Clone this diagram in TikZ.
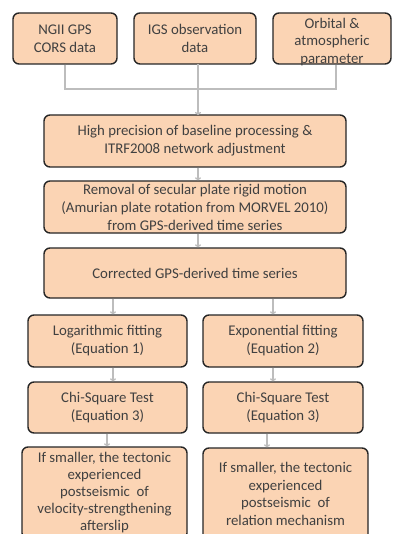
\documentclass[tikz,border=0pt]{standalone}
\usepackage{fontspec}
\setmainfont{Carlito}
\usetikzlibrary{arrows.meta}
\definecolor{boxfill}{HTML}{FBD4B4}
\definecolor{boxline}{HTML}{262626}
\definecolor{txt}{HTML}{404040}
\definecolor{conn}{HTML}{BDBDBD}
\tikzset{
  box/.style={draw=boxline, line width=1.4pt, fill=boxfill, rounded corners=6pt,
    text=txt, align=center, inner sep=0pt,
    font=\fontsize{14.8}{18}\selectfont},
  conn/.style={draw=conn, line width=1.3pt},
  arr/.style={conn, -{To[length=3pt,width=6pt]}}
}
\begin{document}
\begin{tikzpicture}[x=1pt,y=-1pt]
\useasboundingbox (0,0) rectangle (392,534);
\clip (0,0) rectangle (392,534);
\fill[white] (0,0) rectangle (392,534);
% top row
\node[box, minimum width=104pt, minimum height=51pt] (b1) at (65,38.5) {NGII GPS\\CORS data};
\node[box, minimum width=122pt, minimum height=51pt] (b2) at (195,38.5) {IGS observation\\data};
\node[box, minimum width=118pt, minimum height=51pt] (b3) at (332,38.5) {};
\node[text=txt, align=center, inner sep=0pt, font=\fontsize{14.8}{17.5}\selectfont] (b3t) at (332,42) {Orbital \&\\atmospheric\\parameter};
% main column
\node[box, minimum width=302pt, minimum height=52pt] (b4) at (195,141) {High precision of baseline processing \&\\ITRF2008 network adjustment};
\node[box, minimum width=302pt, minimum height=52pt] (b5) at (195,207) {Removal of secular plate rigid motion\\(Amurian plate rotation from MORVEL 2010)\\from GPS-derived time series};
\node[box, minimum width=302pt, minimum height=50pt] (b6) at (195,273) {Corrected GPS-derived time series};
% two columns
\node[box, minimum width=159pt, minimum height=52pt] (l1) at (107.5,341) {Logarithmic fitting\\(Equation 1)};
\node[box, minimum width=160pt, minimum height=52pt] (r1) at (283,341) {Exponential fitting\\(Equation 2)};
\node[box, minimum width=159pt, minimum height=51pt] (l2) at (107.5,407.5) {Chi-Square Test\\(Equation 3)};
\node[box, minimum width=160pt, minimum height=51pt] (r2) at (283,407.5) {Chi-Square Test\\(Equation 3)};
\node[box, minimum width=165pt, minimum height=92pt, font=\fontsize{14.8}{17}\selectfont] (l3) at (104.5,493) {If smaller, the tectonic\\experienced\\postseismic\ \ of\\velocity-strengthening\\afterslip};
\node[box, minimum width=165pt, minimum height=92pt, font=\fontsize{14.8}{17.4}\selectfont] (r3) at (285.5,494) {If smaller, the tectonic\\experienced\\postseismic\ \ of\\relation mechanism};
% connectors
\coordinate (j1) at (b1.south |- 0,89);
\coordinate (j3) at (336,89);
\coordinate (j2) at (198,89);
\draw[conn] (b1.south) -- (j1) -- (j3) -- (j3 |- b3.south);
\draw[arr] (198,64) -- (198,115);
\draw[arr] (b4.south -| 198,0) -- (b5.north -| 198,0);
\draw[arr] (b5.south -| 198,0) -- (b6.north -| 198,0);
\draw[arr] (b6.south -| 113,0) -- (l1.north -| 113,0);
\draw[arr] (b6.south -| 273,0) -- (r1.north -| 273,0);
\draw[arr] (l1.south -| 113,0) -- (l2.north -| 113,0);
\draw[arr] (r1.south -| 273,0) -- (r2.north -| 273,0);
\draw[arr] (l2.south -| 107,0) -- (l3.north -| 107,0);
\draw[arr] (r2.south -| 267,0) -- (r3.north -| 267,0);
\end{tikzpicture}
\end{document}
